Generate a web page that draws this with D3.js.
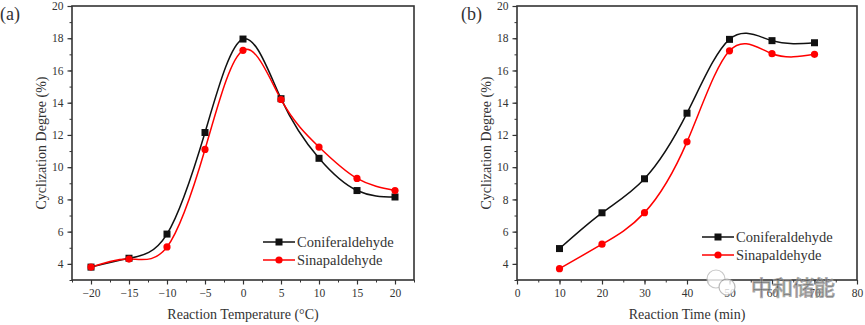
<!DOCTYPE html>
<html>
<head>
<meta charset="utf-8">
<script src="https://cdn.jsdelivr.net/npm/d3@7"></script>
<style>
  body { margin: 0; background: #fff; }
  svg text { font-family: "Liberation Serif", "Times New Roman", serif; fill: #333; }
</style>
</head>
<body>
<svg id="canvas" width="865" height="325"></svg>
<script>
// panel (a): temperature series
const temps = [-20, -15, -10, -5, 0, 5, 10, 15, 20];
const conifTemp = [3.8, 4.35, 5.85, 12.15, 17.95, 14.25, 10.55, 8.55, 8.15];
const sinaTemp = [3.8, 4.3, 5.05, 11.1, 17.25, 14.2, 11.25, 9.3, 8.55];

// panel (b): time series
const times = [10, 20, 30, 40, 50, 60, 70];
const conifTime = [4.95, 7.17, 9.28, 13.35, 17.93, 17.85, 17.72];
const sinaTime = [3.7, 5.22, 7.18, 11.57, 17.22, 17.04, 17.0];

const yTicks = [4, 6, 8, 10, 12, 14, 16, 18, 20];
const tempTicks = [-20, -15, -10, -5, 0, 5, 10, 15, 20];
const timeTicks = [0, 10, 20, 30, 40, 50, 60, 70, 80];
const names = ["Coniferaldehyde", "Sinapaldehyde"];

let canvas = d3.select("#canvas");

let panel = (opt) => {
    let g = canvas.append("g");
    let x = d3.scaleLinear().domain(opt.xDomain).range([opt.left, opt.right]);
    let y = d3.scaleLinear().domain([3, 20]).range([280, 6]);

    // minor ticks
    g.append("g")
        .attr("transform", "translate(0,280)")
        .call(d3.axisBottom(x).tickValues(opt.minorX).tickSize(2.5).tickFormat(""))
        .call(a => a.select(".domain").remove())
        .selectAll("line").attr("stroke", "#333");
    g.append("g")
        .attr("transform", `translate(${opt.left},0)`)
        .call(d3.axisLeft(y).tickValues(d3.range(3, 20, 1)).tickSize(2.5).tickFormat(""))
        .call(a => a.select(".domain").remove())
        .selectAll("line").attr("stroke", "#333");

    let xa = g.append("g")
        .attr("transform", "translate(0,280)")
        .call(d3.axisBottom(x).tickValues(opt.xTicks).tickSize(4.5).tickPadding(4));
    let ya = g.append("g")
        .attr("transform", `translate(${opt.left},0)`)
        .call(d3.axisLeft(y).tickValues(yTicks).tickSize(4.5).tickPadding(4));
    [xa, ya].forEach(a => {
        a.select(".domain").remove();
        a.selectAll("line").attr("stroke", "#333").attr("stroke-width", 1.2);
        a.selectAll("text").style("font-size", "11.5px").attr("fill", "#333");
    });

    // frame
    g.append("rect")
        .attr("x", opt.left).attr("y", 6)
        .attr("width", opt.right - opt.left).attr("height", 274)
        .attr("fill", "none").attr("stroke", "#333").attr("stroke-width", 1.6);

    let line = d3.line().x(d => x(d[0])).y(d => y(d[1])).curve(d3.curveNatural);
    let series = [
        {vals: opt.a, color: "#111", shape: "square"},
        {vals: opt.b, color: "#ff0000", shape: "circle"}
    ];
    series.forEach(s => {
        let pts = opt.xs.map((v, i) => [v, s.vals[i]]);
        g.append("path").datum(pts)
            .attr("d", line).attr("fill", "none")
            .attr("stroke", s.color).attr("stroke-width", 1.5);
    });
    series.forEach(s => {
        let pts = opt.xs.map((v, i) => [v, s.vals[i]]);
        if (s.shape == "square") {
            g.selectAll(null).data(pts).enter().append("rect")
                .attr("x", d => x(d[0]) - 3.5).attr("y", d => y(d[1]) - 3.5)
                .attr("width", 7).attr("height", 7).attr("fill", s.color);
        } else {
            g.selectAll(null).data(pts).enter().append("circle")
                .attr("cx", d => x(d[0])).attr("cy", d => y(d[1]))
                .attr("r", 3.6).attr("fill", s.color);
        }
    });

    // legend
    series.forEach((s, i) => {
        let ly = opt.legY + i * 18;
        g.append("line")
            .attr("x1", opt.legX).attr("x2", opt.legX + 32)
            .attr("y1", ly).attr("y2", ly)
            .attr("stroke", s.color).attr("stroke-width", 1.5);
        if (s.shape == "square") {
            g.append("rect").attr("x", opt.legX + 12.5).attr("y", ly - 3.5)
                .attr("width", 7).attr("height", 7).attr("fill", s.color);
        } else {
            g.append("circle").attr("cx", opt.legX + 16).attr("cy", ly).attr("r", 3.6).attr("fill", s.color);
        }
        g.append("text")
            .attr("x", opt.legX + 34).attr("y", ly + 5)
            .style("font-size", "14.5px")
            .text(names[i]);
    });

    // titles
    g.append("text")
        .attr("x", (opt.left + opt.right) / 2).attr("y", 319)
        .attr("text-anchor", "middle").style("font-size", "14px")
        .text(opt.xTitle);
    g.append("text")
        .attr("transform", `translate(${opt.yTitleX},143) rotate(-90)`)
        .attr("text-anchor", "middle").style("font-size", "14px")
        .text("Cyclization Degree (%)");
    g.append("text")
        .attr("x", opt.labelX).attr("y", 20)
        .style("font-size", "18px")
        .text(opt.label);
};

panel({
    xDomain: [-22.5, 22.5], left: 72, right: 414,
    xs: temps, a: conifTemp, b: sinaTemp,
    xTicks: tempTicks, minorX: d3.range(-22.5, 22.6, 2.5),
    legX: 263, legY: 242,
    xTitle: "Reaction Temperature (\u00B0C)", yTitleX: 46,
    label: "(a)", labelX: 0
});

panel({
    xDomain: [0, 80], left: 517, right: 857,
    xs: times, a: conifTime, b: sinaTime,
    xTicks: timeTicks, minorX: d3.range(0, 81, 5),
    legX: 702, legY: 237,
    xTitle: "Reaction Time (min)", yTitleX: 491,
    label: "(b)", labelX: 461
});

// watermark
let wm = canvas.append("g").attr("opacity", 0.8);
wm.append("circle").attr("cx", 716).attr("cy", 279).attr("r", 9)
    .attr("fill", "#fff").attr("stroke", "#bbb").attr("stroke-width", 1.2);
wm.append("circle").attr("cx", 727).attr("cy", 287).attr("r", 8)
    .attr("fill", "#fff").attr("stroke", "#aaa").attr("stroke-width", 1.2);
wm.append("text")
    .attr("x", 751).attr("y", 295)
    .style("font-family", "'Noto Sans CJK SC', sans-serif")
    .style("font-size", "21px")
    .attr("fill", "#fff").attr("stroke", "#999").attr("stroke-width", 1)
    .text("中和储能");
</script>
</body>
</html>
